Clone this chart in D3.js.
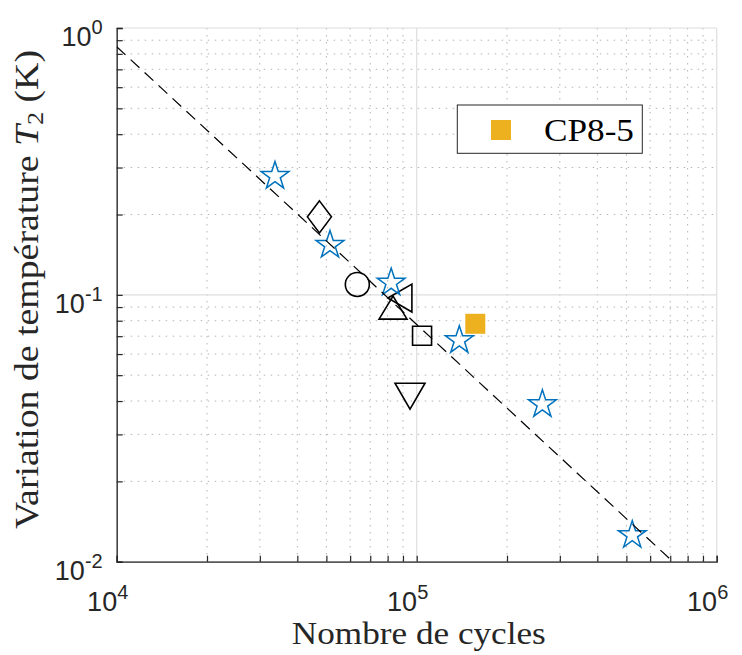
<!DOCTYPE html>
<html>
<head>
<meta charset="utf-8">
<script src="https://cdn.jsdelivr.net/npm/d3@7"></script>
<style>
  body { margin: 0; background: #fff; }
  svg { display: block; }
</style>
</head>
<body>
<div id="chart"></div>
<script>
// Data
var starCycles = [33700, 51400, 82200, 138700, 262400, 523000];
var starDT = [0.281, 0.155, 0.112, 0.0681, 0.0392, 0.01268];

var blackShapes = ["diamond", "circle", "up", "left", "square", "down"];
var blackCycles = [47400, 63400, 83400, 87900, 104200, 95000];
var blackDT = [0.196, 0.1094, 0.0896, 0.0973, 0.0703, 0.0417];

var cpName = "CP8-5";
var cpCycles = [156800];
var cpDT = [0.0779];

// fit line  dT = a * (N/1e4)^b
var fitA = 0.851;
var fitB = -1.041;
var fitRange = [1e4, 1e6];

var xTicks = [1e4, 1e5, 1e6];
var xTickExp = ["4", "5", "6"];
var yTicks = [1e-2, 1e-1, 1];
var yTickExp = ["-2", "-1", "0"];

// Dimensions
var W = 742, H = 655;
var margin = { top: 28, left: 116.7 };
var width = 600, height = 533.7;

var svg = d3.select("#chart").append("svg")
  .attr("width", W)
  .attr("height", H);

var x = d3.scaleLog().domain([1e4, 1e6]).range([0, width]);
var y = d3.scaleLog().domain([1e-2, 1]).range([height, 0]);

var g = svg.append("g")
  .attr("transform", "translate(" + margin.left + "," + margin.top + ")");

// minor ticks
function minors(lo, hi) {
  var out = [];
  for (var p = lo; p < hi; p++) {
    for (var k = 2; k <= 9; k++) out.push(k * Math.pow(10, p));
  }
  return out;
}
var xMinor = minors(4, 6);
var yMinor = minors(-2, 0);

// minor grid (dotted)
g.append("g").selectAll("line").data(xMinor).enter().append("line")
  .attr("x1", function (d) { return x(d); }).attr("x2", function (d) { return x(d); })
  .attr("y1", 0).attr("y2", height)
  .attr("stroke", "#b4b4b4").attr("stroke-width", 1)
  .attr("stroke-dasharray", "1.5,5.5");
g.append("g").selectAll("line").data(yMinor).enter().append("line")
  .attr("y1", function (d) { return y(d); }).attr("y2", function (d) { return y(d); })
  .attr("x1", 0).attr("x2", width)
  .attr("stroke", "#b4b4b4").attr("stroke-width", 1)
  .attr("stroke-dasharray", "1.5,5.5");

// major grid
g.append("g").selectAll("line").data(xTicks).enter().append("line")
  .attr("x1", function (d) { return x(d); }).attr("x2", function (d) { return x(d); })
  .attr("y1", 0).attr("y2", height)
  .attr("stroke", "#dedede").attr("stroke-width", 1.2);
g.append("g").selectAll("line").data(yTicks).enter().append("line")
  .attr("y1", function (d) { return y(d); }).attr("y2", function (d) { return y(d); })
  .attr("x1", 0).attr("x2", width)
  .attr("stroke", "#dedede").attr("stroke-width", 1.2);

// axes with inward ticks
var xAxis = g.append("g")
  .attr("transform", "translate(0," + height + ")")
  .call(d3.axisBottom(x).tickValues(xTicks.concat(xMinor)).tickSize(-6).tickFormat(""));
var yAxis = g.append("g")
  .call(d3.axisLeft(y).tickValues(yTicks.concat(yMinor)).tickSize(-6).tickFormat(""));
[xAxis, yAxis].forEach(function (a) {
  a.select(".domain").attr("stroke", "#262626").attr("stroke-width", 1.3);
  a.selectAll(".tick line").attr("stroke", "#262626").attr("stroke-width", 1.2);
});

// tick labels
var tickFont = "'Liberation Sans', Arial, sans-serif";
g.append("g").selectAll("text").data(xTicks).enter().append("text")
  .attr("x", function (d) { return x(d) - 9; })
  .attr("y", height + 49)
  .attr("text-anchor", "middle")
  .attr("font-family", tickFont).attr("font-size", 27).attr("fill", "#262626")
  .each(function (d, i) {
    var t = d3.select(this);
    t.append("tspan").text("10");
    t.append("tspan").attr("font-size", 20).attr("dy", -12).text(xTickExp[i]);
  });
g.append("g").selectAll("text").data(yTicks).enter().append("text")
  .attr("x", -14)
  .attr("y", function (d) { return y(d) + 18; })
  .attr("text-anchor", "end")
  .attr("font-family", tickFont).attr("font-size", 27).attr("fill", "#262626")
  .each(function (d, i) {
    var t = d3.select(this);
    t.append("tspan").text("10");
    t.append("tspan").attr("font-size", 20).attr("dy", -12).text(yTickExp[i]);
  });

// fit line
var fitLine = d3.line()
  .x(function (d) { return x(d); })
  .y(function (d) { return y(fitA * Math.pow(d / 1e4, fitB)); });
var clipId = "plotclip";
svg.append("clipPath").attr("id", clipId).append("rect")
  .attr("x", margin.left).attr("y", margin.top).attr("width", width).attr("height", height);
svg.append("g").attr("clip-path", "url(#" + clipId + ")")
  .append("g").attr("transform", "translate(" + margin.left + "," + margin.top + ")")
  .append("path")
  .datum(fitRange)
  .attr("d", fitLine)
  .attr("fill", "none")
  .attr("stroke", "#000")
  .attr("stroke-width", 1.2)
  .attr("stroke-dasharray", "12,7");

// marker shapes
function shapePath(s) {
  switch (s) {
    case "diamond": return "M0,-16L12,0L0,16L-12,0Z";
    case "circle": return d3.symbol().type(d3.symbolCircle).size(Math.PI * 144)();
    case "up": return "M0,-11.5L14,11.5L-14,11.5Z";
    case "down": return "M-15,-13L15,-13L0,13Z";
    case "left": return "M-12,0L12,-14L12,14Z";
    case "square": return "M-9.5,-9.5L9.5,-9.5L9.5,9.5L-9.5,9.5Z";
  }
}
var starPath = d3.symbol().type(d3.symbolStar).size(240)();

g.append("g").selectAll("path").data(blackShapes).enter().append("path")
  .attr("transform", function (d, i) { return "translate(" + x(blackCycles[i]) + "," + y(blackDT[i]) + ")"; })
  .attr("d", function (d) { return shapePath(d); })
  .attr("fill", "none").attr("stroke", "#000").attr("stroke-width", 1.6);

g.append("g").selectAll("path").data(starCycles).enter().append("path")
  .attr("transform", function (d, i) { return "translate(" + x(d) + "," + (y(starDT[i]) + 1) + ")"; })
  .attr("d", starPath)
  .attr("fill", "none").attr("stroke", "#0072BD").attr("stroke-width", 1.5);

g.append("g").selectAll("rect").data(cpCycles).enter().append("rect")
  .attr("x", function (d) { return x(d) - 10; })
  .attr("y", function (d, i) { return y(cpDT[i]) - 10; })
  .attr("width", 20).attr("height", 20)
  .attr("fill", "#EDB120");

// legend
var leg = svg.append("g").attr("transform", "translate(457.3,105)");
leg.append("rect").attr("width", 185).attr("height", 48.3)
  .attr("fill", "#fff").attr("stroke", "#262626").attr("stroke-width", 1);
leg.append("rect").attr("x", 33.7).attr("y", 15).attr("width", 20).attr("height", 20)
  .attr("fill", "#EDB120");
leg.append("text").attr("x", 86.7).attr("y", 36)
  .attr("font-family", "'Liberation Serif', 'Times New Roman', serif")
  .attr("font-size", 31).attr("fill", "#000")
  .attr("textLength", 90).attr("lengthAdjust", "spacingAndGlyphs")
  .text(cpName);

// axis labels
var labelFont = "'Liberation Serif', 'Times New Roman', serif";
svg.append("text")
  .attr("x", 418.8).attr("y", 643.5)
  .attr("text-anchor", "middle")
  .attr("font-family", labelFont).attr("font-size", 32).attr("fill", "#262626")
  .attr("textLength", 254).attr("lengthAdjust", "spacingAndGlyphs")
  .text("Nombre de cycles");

var yl = svg.append("text")
  .attr("transform", "translate(38,289.5) rotate(-90)")
  .attr("text-anchor", "middle")
  .attr("font-family", labelFont).attr("font-size", 33).attr("fill", "#262626")
  .attr("textLength", 479).attr("lengthAdjust", "spacingAndGlyphs");
yl.append("tspan").text("Variation de température ");
yl.append("tspan").attr("font-style", "italic").text("T");
yl.append("tspan").attr("font-size", 23).attr("dy", 5).text("2");
yl.append("tspan").attr("dy", -5).text(" (K)");
</script>
</body>
</html>
